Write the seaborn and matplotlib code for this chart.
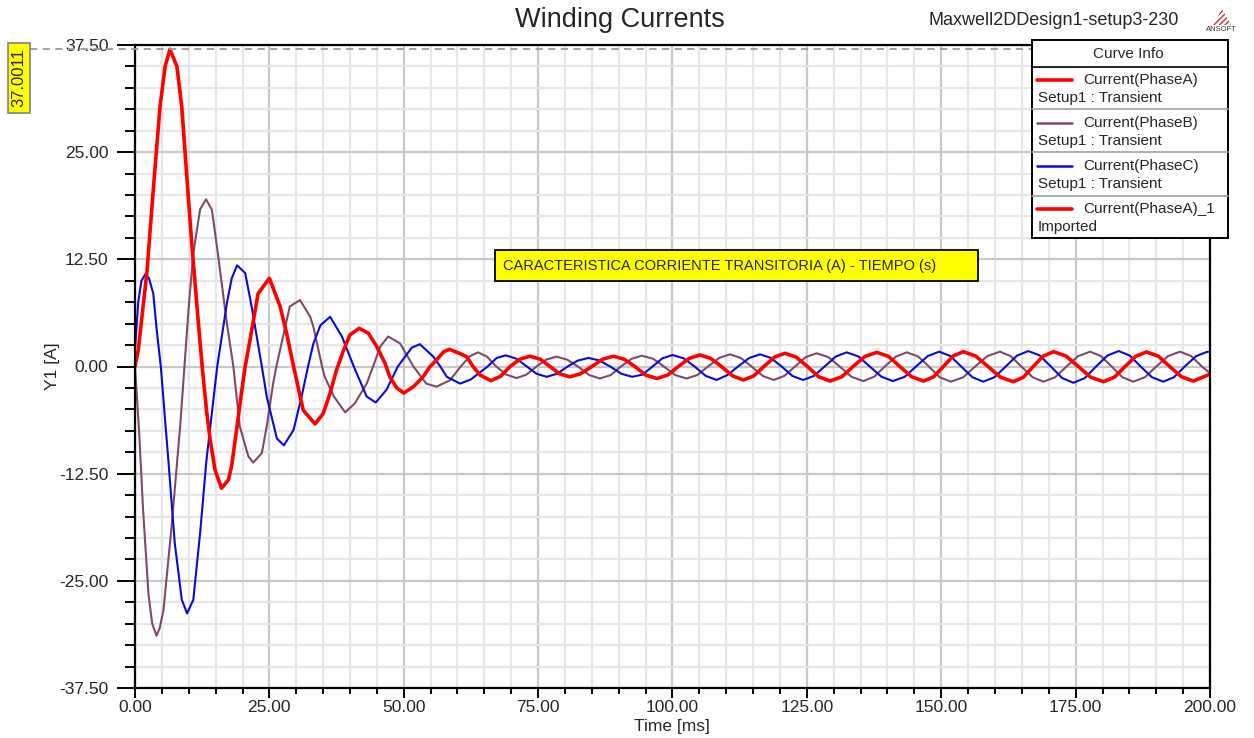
import matplotlib
matplotlib.use("Agg")
import matplotlib.pyplot as plt
from matplotlib.patches import Rectangle, Polygon
from matplotlib.lines import Line2D
import seaborn as sns
import pandas as pd
import numpy as np

# Werte (Zeit in ms, Strom in A)
red_t = [0, 0.6, 2.2, 3.4, 4.65, 5.6, 6.5, 7.8, 8.7, 9.6, 10.5, 11.8, 12.5, 13.3, 14.0, 14.9,
         16.1, 17.4, 18.0, 18.9, 19.8, 20.5, 21.4, 22.9, 25.0, 27.0, 28.2, 29.5, 31.3, 33.5, 35.0,
         36.3, 37.5, 38.8, 40.0, 41.7, 43.4, 45.0, 46.5, 47.4, 48.7, 50.0, 51.8, 53.6, 54.9, 56.1,
         57.4, 58.5, 60.5, 61.7, 62.9, 64.2, 66.2, 68.0, 69.8, 71.6, 73.5, 75.4, 77.2, 79.0, 80.9,
         82.9, 85.0, 87.0, 89.0, 91.0, 93.0, 95.0, 97.1, 99.1, 101.1, 103.1, 105.1, 107.1, 109.1,
         111.2, 113.2, 115.1, 117.0, 119.0, 120.9, 123.0, 125.1, 127.2, 129.3, 131.5, 133.6, 135.8,
         138.0, 140.2, 142.3, 144.5, 146.7, 148.6, 150.4, 152.2, 154.1, 156.4, 158.7, 161.0, 163.4,
         165.3, 167.1, 169.0, 170.9, 173.2, 175.5, 177.8, 180.2, 182.2, 184.2, 186.2, 188.2, 190.4,
         192.5, 194.7, 196.9, 200.0]
red_i = [0, 1.9, 10.9, 20.6, 30.3, 35.0, 37.0, 35.0, 30.3, 22.5, 14.8, 5.0, 0, -5.1, -8.6, -12.1,
         -14.2, -13.2, -11.5, -7.4, -3.1, 0, 3.1, 8.5, 10.3, 7.0, 3.9, 0, -5.1, -6.7, -5.5,
         -3.1, -0.4, 1.9, 3.7, 4.45, 3.9, 2.3, 0.4, -1.2, -2.5, -3.1, -2.35, -1.2, 0, 0.76,
         1.7, 2.0, 1.5, 1.15, 0, -1.0, -1.65, -1.15, 0, 0.85, 1.2, 0.85, 0, -0.85, -1.2,
         -0.85, 0, 0.85, 1.2, 0.85, 0, -1.0, -1.4, -1.0, 0, 0.95, 1.35, 0.95, 0,
         -1.1, -1.57, -1.1, 0, 1.1, 1.54, 1.1, 0, -1.2, -1.7, -1.2, 0, 1.17,
         1.65, 1.17, 0, -1.2, -1.7, -1.2, 0, 1.22, 1.73, 1.22, 0, -1.25, -1.77,
         -1.25, 0, 1.22, 1.73, 1.22, 0, -1.25, -1.77, -1.25, 0, 1.2, 1.7, 1.2,
         0, -1.2, -1.7, -0.9]

purple_t = [0, 0.8, 1.5, 2.5, 3.2, 4.0, 4.6, 5.3, 6.8, 8.4, 9.2, 10.0, 10.85, 12.1, 13.2, 14.3,
            15.5, 17.1, 18.3, 19.5, 21.1, 22.0, 23.6, 24.5, 25.7, 26.3, 28.8, 30.7, 32.6, 33.2,
            34.8, 35.3, 37.0, 39.1, 40.9, 43.1, 44.3, 45.6, 47.1, 49.3, 51.8, 54.2, 56.1, 58.6,
            60.6, 62.3, 63.8, 65.5, 67.2, 69.1, 71.0, 72.8, 74.7, 76.5, 78.4, 80.4, 82.4, 84.5,
            86.5, 88.5, 90.4, 92.4, 94.3, 96.4, 98.4, 100.5, 102.6, 104.6, 106.6, 108.7, 110.7,
            112.7, 114.7, 116.8, 118.8, 120.8, 122.8, 124.8, 126.8, 129.0, 131.1, 133.3, 135.5,
            137.5, 139.5, 141.6, 143.6, 145.7, 147.7, 149.7, 151.8, 154.1, 156.3, 158.6, 160.9,
            162.9, 164.9, 167.0, 169.0, 171.2, 173.3, 175.5, 177.7, 179.7, 181.7, 183.7, 185.7,
            187.9, 190.0, 192.2, 194.4, 196.5, 198.5, 200.0]
purple_i = [0, -8.0, -16.7, -26.5, -30.0, -31.4, -30.5, -28.4, -18.7, -7.0, 0, 7.0, 13.2, 18.3, 19.5, 18.3,
            12.8, 5.0, 0, -7.0, -10.5, -11.2, -10.1, -7.0, -2.0, 0, 7.0, 7.75, 5.8, 4.6,
            0, -1.2, -3.5, -5.35, -4.3, -2.0, 0, 2.3, 3.5, 2.7, 0, -2.0, -2.35, -1.6,
            0, 1.2, 1.65, 1.15, 0, -0.95, -1.35, -0.95, 0, 0.8, 1.15, 0.8, 0, -1.0,
            -1.4, -1.0, 0, 0.9, 1.26, 0.9, 0, -1.0, -1.4, -1.0, 0, 1.0, 1.42,
            1.0, 0, -1.1, -1.57, -1.1, 0, 1.1, 1.54, 1.1, 0, -1.2, -1.7,
            -1.2, 0, 1.17, 1.65, 1.17, 0, -1.25, -1.77, -1.25, 0, 1.22, 1.73,
            1.22, 0, -1.25, -1.77, -1.25, 0, 1.22, 1.73, 1.22, 0, -1.25, -1.77,
            -1.25, 0, 1.22, 1.73, 1.22, 0, -0.8]

blue_t = [0, 0.6, 1.2, 1.9, 2.6, 3.4, 4.0, 4.8, 6.2, 7.4, 8.7, 9.7, 10.85, 12.1, 13.3, 15.3,
          17.1, 18.0, 19.0, 20.5, 21.7, 23.6, 24.5, 26.4, 27.7, 29.5, 31.0, 32.2, 33.2, 34.5,
          36.3, 38.5, 40.7, 43.1, 44.8, 46.8, 48.9, 51.5, 53.0, 55.5, 56.8, 58.0, 60.5, 62.5,
          65.6, 67.3, 69.0, 71.0, 72.9, 74.7, 76.6, 78.5, 80.5, 82.4, 84.4, 86.4, 88.4, 90.5,
          92.5, 94.4, 96.3, 98.1, 100.0, 102.1, 104.1, 106.2, 108.2, 110.2, 112.2, 114.3, 116.3,
          118.3, 120.3, 122.3, 124.3, 126.3, 128.3, 130.4, 132.4, 134.6, 136.7, 138.9, 141.0,
          143.2, 145.3, 147.5, 149.6, 151.7, 153.7, 155.8, 157.8, 159.9, 162.0, 164.1, 166.2,
          168.3, 170.4, 172.5, 174.6, 176.7, 178.8, 180.9, 183.0, 185.1, 187.1, 189.2, 191.3,
          193.3, 195.3, 197.4, 199.4, 200.0]
blue_i = [2.0, 7.5, 10.0, 10.75, 10.3, 8.5, 4.5, 0, -10.9, -20.6, -27.2, -28.8, -27.2, -19.5, -10.9, 0,
          7.4, 10.3, 11.8, 10.9, 7.0, 0, -3.5, -8.4, -9.2, -7.4, -3.5, 0, 2.7, 4.8,
          5.8, 3.5, 0, -3.5, -4.2, -2.7, 0, 2.2, 2.6, 1.15, 0, -1.2, -2.0, -1.5,
          0, 1.0, 1.3, 0.9, 0, -0.85, -1.2, -0.85, 0, 0.7, 1.0, 0.7, 0, -0.85,
          -1.2, -0.95, 0, 0.95, 1.34, 0.95, 0, -1.1, -1.57, -1.0, 0, 1.0, 1.42,
          1.0, 0, -1.1, -1.57, -1.1, 0, 1.17, 1.65, 1.17, 0, -1.2, -1.7,
          -1.2, 0, 1.22, 1.73, 1.22, 0, -1.25, -1.77, -1.25, 0, 1.27, 1.8,
          1.3, 0, -1.35, -1.9, -1.35, 0, 1.27, 1.8, 1.27, 0, -1.25, -1.77,
          -1.25, 0, 1.2, 1.7, 1.7]

y_ticks = [37.5, 25.0, 12.5, 0.0, -12.5, -25.0, -37.5]
x_ticks = [0, 25, 50, 75, 100, 125, 150, 175, 200]
marker_value = 37.0011

c_red = "#ff0000"
c_purple = "#7d4a6c"
c_blue = "#0a0ad2"

sns.set_style("white")
plt.rcParams["font.family"] = ["Liberation Sans", "DejaVu Sans"]

W, H = 1254, 738
fig = plt.figure(figsize=(W / 100, H / 100), dpi=100)


def fx(px):
    return px / W


def fy(py):
    return 1 - py / H


ax = fig.add_axes([fx(135), fy(688), fx(1210) - fx(135), fy(45) - fy(688)])

df_b = pd.DataFrame({"t": purple_t, "i": purple_i})
df_c = pd.DataFrame({"t": blue_t, "i": blue_i})
df_a = pd.DataFrame({"t": red_t, "i": red_i})

sns.lineplot(data=df_b, x="t", y="i", ax=ax, color=c_purple, linewidth=1.5, estimator=None, sort=False)
sns.lineplot(data=df_c, x="t", y="i", ax=ax, color=c_blue, linewidth=1.5, estimator=None, sort=False)
sns.lineplot(data=df_a, x="t", y="i", ax=ax, color=c_red, linewidth=2.6, estimator=None, sort=False)

ax.set_xlim(0, 200)
ax.set_ylim(-37.5, 37.5)
ax.set_xticks(x_ticks)
ax.set_xticklabels([f"{v:.2f}" for v in x_ticks])
ax.set_xticks(np.arange(0, 201, 5), minor=True)
ax.set_yticks(y_ticks)
ax.set_yticklabels([f"{v:.2f}" for v in y_ticks])
ax.set_yticks(np.arange(-37.5, 37.6, 2.5), minor=True)
ax.set_xlabel("")
ax.set_ylabel("")

ax.grid(which="minor", color="#e6e6e6", linewidth=1.6)
ax.grid(which="major", color="#c8c8c8", linewidth=1.6)
ax.set_axisbelow(True)

for s in ax.spines.values():
    s.set_visible(True)
    s.set_color("black")
    s.set_linewidth(1.6)

ax.tick_params(axis="y", which="major", direction="out", length=13, width=1.4, pad=6,
               labelsize=12.5, left=True, color="black")
ax.tick_params(axis="y", which="minor", direction="out", length=7, width=1.4, left=True, color="black")
ax.tick_params(axis="x", which="major", direction="out", length=7, width=1.4, pad=2,
               labelsize=12.5, bottom=True, color="black")
ax.tick_params(axis="x", which="minor", direction="out", length=4.5, width=1.4, bottom=True, color="black")

# marker line 37.0011
fig.add_artist(Line2D([fx(30), fx(1210)], [fy(48.5), fy(48.5)], color="#9a9a9a",
                      linestyle=(0, (4, 3)), linewidth=1.3, zorder=5))
fig.add_artist(Rectangle((fx(8), fy(113)), fx(22), fy(43) - fy(113), facecolor="#ffff00",
                         edgecolor="#808080", linewidth=1.2, zorder=6))
fig.text(fx(19), fy(78), f"{marker_value:.4f}", rotation=90, ha="center", va="center",
         fontsize=12, zorder=7)

# titles
fig.text(fx(620), fy(20), "Winding Currents", ha="center", va="center", fontsize=19.5)
fig.text(fx(928), fy(20.5), "Maxwell2DDesign1-setup3-230", ha="left", va="center", fontsize=13)
fig.text(fx(672), fy(727), "Time [ms]", ha="center", va="center", fontsize=12.5)
fig.text(fx(52), fy(366), "Y1 [A]", ha="center", va="center", rotation=90, fontsize=12.5)

# ansoft logo
fig.add_artist(Polygon([[fx(1213), fy(25)], [fx(1222), fy(9)], [fx(1231), fy(25)]],
                       closed=True, facecolor="white", edgecolor="#c83232", hatch="//////",
                       linewidth=0, zorder=5))
fig.text(fx(1221), fy(29.5), "ANSOFT", ha="center", va="center", fontsize=5.5, color="#333333")

# annotation box
fig.add_artist(Rectangle((fx(495), fy(281)), fx(978) - fx(495), fy(250) - fy(281),
                         facecolor="#ffff00", edgecolor="black", linewidth=1.3, zorder=6))
fig.text(fx(503), fy(266), "CARACTERISTICA CORRIENTE TRANSITORIA (A) - TIEMPO (s)",
         ha="left", va="center", fontsize=10.5, zorder=7)

# curve info box
lx0, lx1, ly0, ly1 = 1032, 1228, 40, 238
fig.add_artist(Rectangle((fx(lx0), fy(ly1)), fx(lx1) - fx(lx0), fy(ly0) - fy(ly1),
                         facecolor="white", edgecolor="black", linewidth=1.4, zorder=8))
fig.text(fx(1128), fy(53.5), "Curve Info", ha="center", va="center", fontsize=11, zorder=9)
for yy, col in [(66.7, "black"), (109.3, "#a0a0a0"), (152.3, "#a0a0a0"), (195.7, "#a0a0a0")]:
    fig.add_artist(Line2D([fx(lx0), fx(lx1)], [fy(yy), fy(yy)], color=col, linewidth=1.2, zorder=9))

entries = [("Current(PhaseA)", "Setup1 : Transient", c_red, 2.6),
           ("Current(PhaseB)", "Setup1 : Transient", c_purple, 1.8),
           ("Current(PhaseC)", "Setup1 : Transient", c_blue, 1.8),
           ("Current(PhaseA)_1", "Imported", c_red, 2.6)]
for k, (name, sub, col, lw) in enumerate(entries):
    top = 66.7 + k * 43
    fig.add_artist(Line2D([fx(1037), fx(1072)], [fy(top + 13), fy(top + 13)], color=col,
                          linewidth=lw, zorder=9))
    fig.text(fx(1083), fy(top + 13), name, ha="left", va="center", fontsize=11, zorder=9)
    fig.text(fx(1038), fy(top + 31), sub, ha="left", va="center", fontsize=11, zorder=9)

fig.savefig("out.png", dpi=100, facecolor="white")
